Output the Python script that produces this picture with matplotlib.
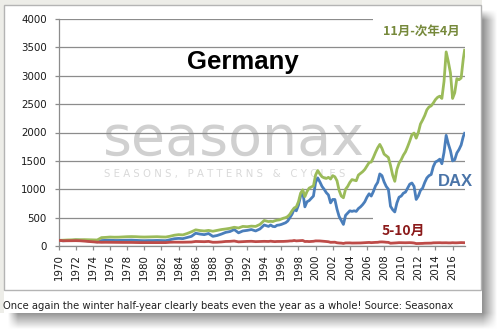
import numpy as np
import matplotlib
matplotlib.use("Agg")
import matplotlib.pyplot as plt
from matplotlib.patches import Rectangle

# ---- data (index levels, 1970 = 100) ----
dates = [
    1970.0, 1970.5, 1971.0, 1971.5, 1972.0, 1972.5, 1973.0, 1973.5, 1974.0, 1974.5,
    1975.0, 1975.5, 1976.0, 1976.5, 1977.0, 1977.5, 1978.0, 1978.5, 1979.0, 1979.5,
    1980.0, 1980.5, 1981.0, 1981.5, 1982.0, 1982.5, 1983.0, 1983.5, 1984.0, 1984.5,
    1985.0, 1985.5, 1986.0, 1986.5, 1987.0, 1987.5, 1988.0, 1988.5, 1989.0, 1989.5,
    1990.0, 1990.5, 1991.0, 1991.5, 1992.0, 1992.5, 1993.0, 1993.5, 1994.0, 1994.5,
    1994.75, 1995.0, 1995.25, 1995.5, 1995.75, 1996.0, 1996.25, 1996.5, 1996.75,
    1997.0, 1997.25, 1997.5, 1997.75, 1998.0, 1998.25, 1998.5, 1998.75,
    1999.0, 1999.25, 1999.5, 1999.75, 2000.0, 2000.25, 2000.5, 2000.75,
    2001.0, 2001.25, 2001.5, 2001.75, 2002.0, 2002.25, 2002.5, 2002.75,
    2003.0, 2003.25, 2003.5, 2003.75, 2004.0, 2004.25, 2004.5, 2004.75,
    2005.0, 2005.25, 2005.5, 2005.75, 2006.0, 2006.25, 2006.5, 2006.75,
    2007.0, 2007.25, 2007.5, 2007.75, 2008.0, 2008.25, 2008.5, 2008.75,
    2009.0, 2009.25, 2009.5, 2009.75, 2010.0, 2010.25, 2010.5, 2010.75,
    2011.0, 2011.25, 2011.5, 2011.75, 2012.0, 2012.25, 2012.5, 2012.75,
    2013.0, 2013.25, 2013.5, 2013.75, 2014.0, 2014.25, 2014.5, 2014.75,
    2015.0, 2015.25, 2015.5, 2015.75, 2016.0, 2016.25, 2016.5, 2016.75,
    2017.0, 2017.25, 2017.4,
]

dax = [
    100, 92, 96, 98, 104, 102, 98, 88, 80, 72,
    96, 100, 102, 98, 98, 100, 102, 104, 100, 96,
    94, 96, 96, 98, 96, 94, 112, 128, 134, 130,
    150, 170, 225, 210, 200, 220, 170, 185, 210, 240,
    255, 290, 232, 265, 275, 290, 265, 300, 370, 345,
    370, 345, 340, 365, 370, 380, 395, 410, 440,
    500, 560, 650, 620, 720, 880, 960, 690,
    780, 800, 840, 880, 1120, 1200, 1130, 1050,
    1000, 940, 900, 760, 820, 820, 650, 520,
    450, 380, 540, 580, 620, 610, 620, 610,
    660, 690, 730, 780, 860, 920, 880, 960,
    1060, 1120, 1270, 1240, 1130, 1050, 1000, 700,
    640, 600, 760, 860, 880, 930, 950, 1020,
    1090, 1110, 1050, 820, 880, 980, 1020, 1120,
    1200, 1240, 1260, 1400, 1480, 1500, 1530, 1450,
    1650, 1950, 1800, 1680, 1500, 1520, 1640, 1700,
    1780, 1930, 1985,
]

nov_apr = [
    100, 102, 106, 108, 112, 110, 112, 110, 108, 106,
    148, 152, 158, 155, 156, 160, 164, 166, 164, 160,
    158, 160, 162, 164, 160, 158, 172, 190, 200, 196,
    220, 250, 285, 272, 265, 275, 260, 275, 290, 300,
    312, 330, 318, 345, 340, 350, 345, 380, 450, 430,
    435, 430, 445, 455, 460, 475, 490, 500, 520,
    560, 620, 670, 690, 780, 930, 990, 870,
    960, 1020, 1040, 1060, 1250, 1330, 1270, 1220,
    1200, 1190, 1210, 1180, 1240, 1220, 1150, 980,
    880, 850, 1000, 1050, 1120, 1170, 1160, 1150,
    1250, 1280, 1310, 1350, 1410, 1470, 1480, 1560,
    1650, 1730, 1790, 1720, 1620, 1590, 1560, 1420,
    1250, 1140, 1350, 1460, 1520, 1600, 1660, 1750,
    1850, 1960, 1990, 1900, 2000, 2150, 2220, 2300,
    2400, 2450, 2470, 2520, 2580, 2620, 2640, 2600,
    2900, 3420, 3250, 3050, 2600, 2700, 2950, 2930,
    2960, 3300, 3450,
]

may_oct = [
    100, 92, 92, 93, 94, 92, 86, 80, 74, 68,
    65, 66, 65, 64, 63, 63, 63, 63, 61, 60,
    60, 60, 60, 60, 61, 60, 66, 68, 67, 67,
    69, 70, 80, 78, 76, 81, 66, 67, 72, 80,
    82, 88, 73, 77, 81, 83, 77, 79, 82, 80,
    85, 80, 77, 80, 80, 81, 81, 83, 85,
    89, 90, 97, 90, 92, 95, 97, 79,
    81, 78, 81, 83, 90, 90, 89, 86,
    83, 79, 75, 65, 66, 67, 57, 53,
    51, 45, 54, 55, 55, 52, 53, 53,
    53, 54, 56, 58, 61, 63, 59, 62,
    64, 65, 71, 72, 70, 66, 64, 49,
    51, 53, 56, 59, 58, 58, 57, 58,
    59, 57, 53, 43, 44, 46, 46, 49,
    50, 51, 51, 56, 57, 57, 58, 56,
    57, 57, 55, 55, 58, 56, 56, 58,
    60, 58, 58,
]

year_ticks = list(range(1970, 2017, 2))
value_ticks = list(range(0, 4001, 500))

C_DAX = "#4a7ebb"
C_WIN = "#9bbb59"
C_SUM = "#be4b48"

W, H = 500, 331
fig = plt.figure(figsize=(W / 100, H / 100), dpi=100)

# ---- card background with soft drop shadow ----
bg = fig.add_axes([0, 0, 1, 1], zorder=0)
yy, xx = np.mgrid[0:H, 0:W] + 0.5
fx = np.clip((497 - xx) / 14, 0, 1) * np.clip((xx - 8) / 10, 0, 1)
fy = np.clip((329 - yy) / 16, 0, 1) * np.clip((yy - 10) / 10, 0, 1)
shade = 1 - 0.42 * fx * fy
img = np.dstack([shade] * 3)
card = (xx < 482) & (yy < 313)
img[card] = 1.0
img[card & ((yy < 5) | (xx < 4))] = (0.93, 0.93, 0.91)
bg.imshow(img, extent=[0, W, H, 0], interpolation="bilinear", aspect="auto")
bg.add_patch(Rectangle((4, 5), 477, 285, fill=False, ec="#b4b4b4", lw=1))
bg.set_xlim(0, W)
bg.set_ylim(H, 0)
bg.axis("off")

# ---- main chart ----
ax = fig.add_axes([58.7 / W, (H - 246) / H, (465 - 58.7) / W, (246 - 19) / H], zorder=1)
ax.set_facecolor("white")
ax.set_xlim(1970, 2017.45)
ax.set_ylim(0, 4000)

ax.set_yticks(value_ticks)
ax.set_yticklabels([str(v) for v in value_ticks], fontsize=7.4, color="#1a1a1a")
ax.set_xticks(year_ticks)
ax.set_xticklabels([str(y) for y in year_ticks], rotation=90, fontsize=7.4, color="#1a1a1a")
ax.tick_params(axis="y", length=3, width=0.9, color="#8c8c8c", pad=5.5)
ax.tick_params(axis="x", length=3, width=0.9, color="#8c8c8c", pad=3)
ax.yaxis.grid(True, color="#8c8c8c", lw=0.9)
ax.set_axisbelow(True)
for s in ("top", "right"):
    ax.spines[s].set_visible(False)
for s in ("left", "bottom"):
    ax.spines[s].set_color("#8c8c8c")
    ax.spines[s].set_linewidth(0.9)

# watermark
px = lambda x, y: (x / W, 1 - y / H)
ax.text(*px(103, 155), "seasonax", transform=fig.transFigure, fontsize=40,
        color="#d0d0d0", ha="left", va="baseline", zorder=0.2, clip_on=False)
ax.text(*px(104, 174), "S E A S O N S ,   P A T T E R N S   &   C Y C L E S",
        transform=fig.transFigure, fontsize=7.3, color="#d9d9d9", ha="left",
        va="center", zorder=0.2, clip_on=False)

# white label backgrounds over the grid
ax.add_patch(Rectangle((2006.7, 3560), 2017.45 - 2006.7, 520, fc="white", ec="none",
                       zorder=1, clip_on=False))
ax.add_patch(Rectangle((2006.7, 120), 2017.45 - 2006.7, 440, fc="white", ec="none",
                       zorder=1))

ax.plot(dates, dax, color=C_DAX, lw=2.0, zorder=3, solid_joinstyle="round")
ax.plot(dates, nov_apr, color=C_WIN, lw=2.0, zorder=3, solid_joinstyle="round")
ax.plot(dates, may_oct, color=C_SUM, lw=2.0, zorder=3, solid_joinstyle="round")

cjk = ["Noto Sans CJK SC", "DejaVu Sans"]
ax.text(*px(243, 62), "Germany", transform=fig.transFigure, fontsize=18.5,
        fontweight="bold", family="Liberation Sans", ha="center", va="center",
        color="black", zorder=4)
ax.text(*px(383, 32), "11月-次年4月", transform=fig.transFigure, fontsize=9,
        fontweight="bold", family=cjk, ha="left", va="center", color="#76893b", zorder=4)
ax.text(*px(438, 181), "DAX", transform=fig.transFigure, fontsize=12,
        fontweight="bold", family="Liberation Sans", ha="left", va="center",
        color="#4a74a8", zorder=4)
ax.text(*px(382, 231), "5-10月", transform=fig.transFigure, fontsize=10,
        fontweight="bold", family=cjk, ha="left", va="center", color="#8b1a1a", zorder=4)

fig.text(3 / W, 1 - 306 / H,
         "Once again the winter half-year clearly beats even the year as a whole! Source: Seasonax",
         fontsize=7.2, color="#222222", ha="left", va="center", zorder=5)

fig.savefig("out.png", dpi=100, facecolor="white")
